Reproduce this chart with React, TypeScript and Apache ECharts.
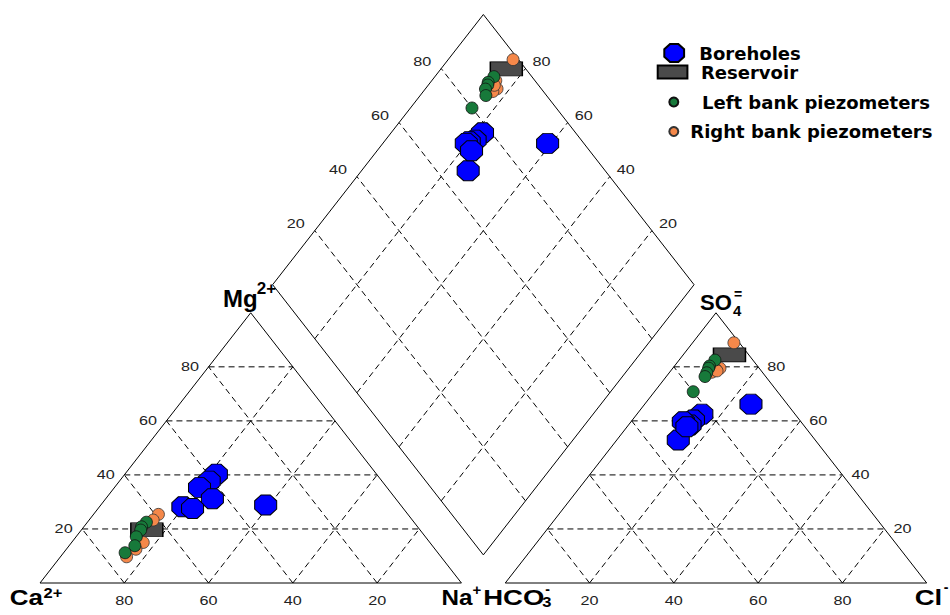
import React, { useEffect, useRef } from 'react';
import * as echarts from 'echarts';

// ---------- data (percent of meq) ----------
const TICKS = [20, 40, 60, 80];

const SERIES_NAMES = ['Boreholes', 'Reservoir', 'Left bank piezometers', 'Right bank piezometers'];

// Boreholes
const BH_CA = [38, 41, 44.5, 43.5, 52, 50, 32];
const BH_MG = [40.3, 37.7, 35.3, 31.2, 28.2, 27.6, 28.9];
const BH_SO4 = [62.5, 60.3, 58.5, 52.9, 59.7, 57.8, 66.2];
const BH_CL = [15.4, 14.5, 14.6, 14.6, 12.4, 14.2, 25.2];

// Reservoir
const RES_CA = [64.8];
const RES_MG = [19.7];
const RES_SO4 = [84.4];
const RES_CL = [11.0];

// Left bank piezometers
const LB_CA = [63.5, 65.5, 66.3, 68.6, 70.6, 74.2];
const LB_MG = [22.5, 20.8, 19.6, 17.1, 13.8, 11.2];
const LB_SO4 = [82.5, 80.3, 79.5, 77.8, 76.4, 70.8];
const LB_CL = [8.5, 8.3, 8.5, 8.9, 9.2, 9.2];

// Right bank piezometers
const RB_CA = [59.2, 61.5, 68, 71, 74.6];
const RB_MG = [25.4, 23.3, 15, 12.5, 9.7];
const RB_SO4 = [88.9, 79.5, 79, 78, 78.5];
const RB_CL = [9.8, 11.2, 10.5, 10, 11];

// ---------- Piper geometry (plot units) ----------
const S = 100;
const K = Math.sqrt(3) / 2;
const H = S * K;
const GAP = 10.4;
const DX = S + GAP;
const BX = S + GAP / 2;
const BY = GAP * K;
const X_MAX = 2 * S + GAP;
const Y_MAX = BY + 2 * H;

const cation = (ca: number, mg: number) => [S - ca - mg / 2, mg * K];
const anion = (so4: number, cl: number) => [DX + cl + so4 / 2, so4 * K];
const diamond = (camg: number, so4cl: number) => [BX + 0.5 * (so4cl - camg), BY + K * (so4cl + camg)];

function samplePoints(ca: number[], mg: number[], so4: number[], cl: number[]) {
  const pts: number[][] = [];
  ca.forEach((c, i) => {
    pts.push(cation(c, mg[i]));
    pts.push(anion(so4[i], cl[i]));
    pts.push(diamond(c + mg[i], so4[i] + cl[i]));
  });
  return pts;
}

// ---------- frame lines ----------
type Seg = number[];
const LINES: Seg[] = [];
const seg = (a: number[], b: number[], dashed: number) => LINES.push([a[0], a[1], b[0], b[1], dashed]);

// outlines
seg(cation(100, 0), cation(0, 0), 0);
seg(cation(0, 0), cation(0, 100), 0);
seg(cation(0, 100), cation(100, 0), 0);
seg(anion(0, 0), anion(0, 100), 0);
seg(anion(0, 100), anion(100, 0), 0);
seg(anion(100, 0), anion(0, 0), 0);
seg(diamond(0, 0), diamond(0, 100), 0);
seg(diamond(0, 100), diamond(100, 100), 0);
seg(diamond(100, 100), diamond(100, 0), 0);
seg(diamond(100, 0), diamond(0, 0), 0);

TICKS.forEach((t) => {
  // cation triangle
  seg(cation(100 - t, t), cation(0, t), 1);
  seg(cation(t, 0), cation(t, 100 - t), 1);
  seg(cation(100 - t, 0), cation(0, 100 - t), 1);
  // anion triangle
  seg(anion(t, 0), anion(t, 100 - t), 1);
  seg(anion(0, t), anion(100 - t, t), 1);
  seg(anion(0, 100 - t), anion(100 - t, 0), 1);
  // diamond
  seg(diamond(0, t), diamond(100, t), 1);
  seg(diamond(t, 0), diamond(t, 100), 1);
});

// ---------- tick labels ----------
type TL = { pt: number[]; text: string; dx: number; dy: number; align: string };
const TICK_LABELS: TL[] = [];
TICKS.forEach((t) => {
  TICK_LABELS.push({ pt: cation(100 - t, t), text: String(t), dx: -9.5, dy: 0, align: 'right' });
  TICK_LABELS.push({ pt: cation(t, 0), text: String(t), dx: 0, dy: 18, align: 'center' });
  TICK_LABELS.push({ pt: anion(t, 100 - t), text: String(t), dx: 9, dy: 0, align: 'left' });
  TICK_LABELS.push({ pt: anion(0, t), text: String(t), dx: 0, dy: 18, align: 'center' });
  TICK_LABELS.push({ pt: diamond(100, t), text: String(t), dx: -10, dy: -6.5, align: 'right' });
  TICK_LABELS.push({ pt: diamond(t, 100), text: String(t), dx: 7, dy: -6.5, align: 'left' });
});

// ---------- apex titles ----------
type Part = { t: string; dx: number; dy: number; size: number; align: string; sx: number };
const TITLES: { pt: number[]; parts: Part[] }[] = [
  { pt: cation(0, 100), parts: [
    { t: 'Mg', dx: 7, dy: -14.5, size: 24, align: 'right', sx: 1 },
    { t: '2+', dx: 6, dy: -24.5, size: 17, align: 'left', sx: 1 },
  ] },
  { pt: cation(100, 0), parts: [
    { t: 'Ca', dx: 3, dy: 14.5, size: 22, align: 'right', sx: 1.18 },
    { t: '2+', dx: 3.5, dy: 9.5, size: 15, align: 'left', sx: 1.1 },
  ] },
  { pt: cation(0, 0), parts: [
    { t: 'Na', dx: -20, dy: 14.5, size: 22, align: 'left', sx: 1.1 },
    { t: '+', dx: 11, dy: 6, size: 15, align: 'left', sx: 1 },
  ] },
  { pt: anion(0, 0), parts: [
    { t: 'HCO', dx: -22, dy: 14.5, size: 22, align: 'left', sx: 1.25 },
    { t: '3', dx: 37, dy: 19, size: 15, align: 'left', sx: 1.1 },
    { t: '-', dx: 40, dy: 6, size: 14, align: 'left', sx: 1 },
  ] },
  { pt: anion(100, 0), parts: [
    { t: 'SO', dx: -16, dy: -10, size: 22, align: 'left', sx: 1 },
    { t: '4', dx: 17, dy: -2.5, size: 15, align: 'left', sx: 1 },
    { t: '=', dx: 18, dy: -19, size: 14, align: 'left', sx: 1 },
  ] },
  { pt: anion(0, 100), parts: [
    { t: 'Cl', dx: -12, dy: 14.5, size: 22, align: 'left', sx: 1.25 },
    { t: '-', dx: 17, dy: 4, size: 14, align: 'left', sx: 1 },
  ] },
];

const FONT = '"Liberation Sans", Arial, Helvetica, sans-serif';
const OCT = 'path://M6.4,0L15.6,0L22,5.9L22,14.1L15.6,20L6.4,20L0,14.1L0,5.9Z';
const RECT = 'path://M0,0L32,0L32,14L0,14Z';

const legendText = { fontFamily: '"DejaVu Sans", sans-serif', fontWeight: 'bold' as const, fontSize: 18, color: '#000' };

const option: any = {
  animation: false,
  backgroundColor: '#fff',
  grid: { left: 40, right: 23.3, top: 14.5, bottom: 32 },
  xAxis: { type: 'value', min: 0, max: X_MAX, show: false },
  yAxis: { type: 'value', min: 0, max: Y_MAX, show: false },
  legend: [
    { data: [SERIES_NAMES[0]], left: 663.3, top: 43, itemWidth: 40.2, itemHeight: 18, padding: 0, selectedMode: false, textStyle: legendText },
    { data: [SERIES_NAMES[1]], left: 656.7, top: 63, itemWidth: 46.9, itemHeight: 13, padding: 0, selectedMode: false, textStyle: legendText },
    { data: [SERIES_NAMES[2]], left: 668.3, top: 93, itemWidth: 46.4, itemHeight: 9, padding: 0, selectedMode: false, textStyle: legendText },
    { data: [SERIES_NAMES[3]], left: 668.3, top: 122.5, itemWidth: 23, itemHeight: 9, padding: 0, selectedMode: false, textStyle: legendText },
  ],
  series: [
    {
      type: 'custom', name: 'frame', silent: true, clip: false, z: 1,
      data: LINES,
      renderItem: (params: any, api: any) => {
        const p1 = api.coord([api.value(0), api.value(1)]);
        const p2 = api.coord([api.value(2), api.value(3)]);
        return {
          type: 'line',
          shape: { x1: p1[0], y1: p1[1], x2: p2[0], y2: p2[1] },
          style: { stroke: '#000', lineWidth: 1, lineDash: api.value(4) ? [6, 4] : null, fill: null },
        };
      },
    },
    {
      type: 'custom', name: 'ticks', silent: true, clip: false, z: 2,
      data: TICK_LABELS.map((s) => s.pt),
      renderItem: (params: any, api: any) => {
        const s = TICK_LABELS[params.dataIndex];
        const p = api.coord([api.value(0), api.value(1)]);
        return {
          type: 'text', x: p[0] + s.dx, y: p[1] + s.dy, scaleX: 1.35,
          style: { text: s.text, fontSize: 12, fontFamily: FONT, fill: '#222', align: s.align, verticalAlign: 'middle' },
        };
      },
    },
    {
      type: 'custom', name: 'titles', silent: true, clip: false, z: 2,
      data: TITLES.map((s) => s.pt),
      renderItem: (params: any, api: any) => {
        const s = TITLES[params.dataIndex];
        const p = api.coord([api.value(0), api.value(1)]);
        return {
          type: 'group',
          children: s.parts.map((q) => ({
            type: 'text', x: p[0] + q.dx, y: p[1] + q.dy, scaleX: q.sx,
            style: { text: q.t, fontSize: q.size, fontWeight: 'bold', fontFamily: FONT, fill: '#000', align: q.align, verticalAlign: 'middle' },
          })),
        };
      },
    },
    {
      name: SERIES_NAMES[0], type: 'scatter', z: 3, silent: true,
      symbol: OCT, symbolSize: [22, 20],
      itemStyle: { color: '#0000ff', borderColor: '#000', borderWidth: 1, opacity: 1 },
      data: samplePoints(BH_CA, BH_MG, BH_SO4, BH_CL),
    },
    {
      name: SERIES_NAMES[1], type: 'scatter', z: 4, silent: true,
      symbol: RECT, symbolSize: [32, 14],
      itemStyle: { color: '#4a4a4a', borderColor: '#000', borderWidth: 1, opacity: 1 },
      data: samplePoints(RES_CA, RES_MG, RES_SO4, RES_CL),
    },
    {
      name: SERIES_NAMES[3], type: 'scatter', z: 5, silent: true,
      symbol: 'circle', symbolSize: 12,
      itemStyle: { color: '#f5884a', borderColor: '#333', borderWidth: 0.8, opacity: 1 },
      data: samplePoints(RB_CA, RB_MG, RB_SO4, RB_CL),
    },
    {
      name: SERIES_NAMES[2], type: 'scatter', z: 6, silent: true,
      symbol: 'circle', symbolSize: 12,
      itemStyle: { color: '#17793a', borderColor: '#111', borderWidth: 0.8, opacity: 1 },
      data: samplePoints(LB_CA, LB_MG, LB_SO4, LB_CL),
    },
  ],
};

export default function App() {
  const ref = useRef<HTMLDivElement>(null);
  useEffect(() => {
    const chart = echarts.init(ref.current!, null, { renderer: 'svg' });
    chart.setOption(option);
    return () => chart.dispose();
  }, []);
  return <div ref={ref} style={{ position: 'absolute', left: 0, top: 0, width: 950, height: 615, background: '#fff' }} />;
}
